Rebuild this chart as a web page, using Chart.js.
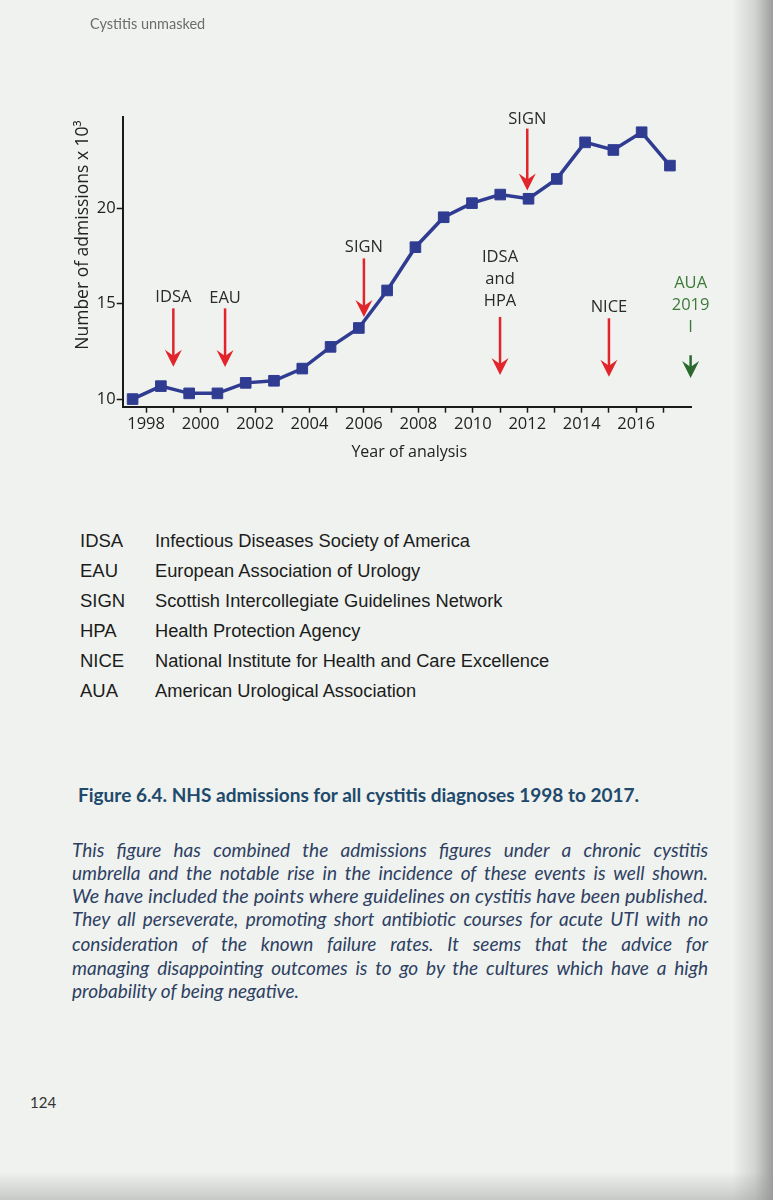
<!DOCTYPE html>
<html><head><meta charset="utf-8">
<script src="https://cdn.jsdelivr.net/npm/chart.js@4.4.0/dist/chart.umd.min.js"></script>
<style>
html,body{margin:0;padding:0;}
body{width:773px;height:1200px;position:relative;overflow:hidden;background:#eff2ee;}
#edgeR{position:absolute;top:0;right:0;width:40px;height:1200px;background:linear-gradient(to right,rgba(140,142,140,0) 0%,rgba(140,142,140,0.3) 55%,rgba(120,122,120,0.7) 100%);}
#edgeB{position:absolute;left:0;bottom:0;width:773px;height:28px;background:linear-gradient(to bottom,rgba(150,152,150,0),rgba(150,152,150,0.45));}
#chart{position:absolute;left:0;top:0;}
.t{position:absolute;white-space:nowrap;line-height:20px;height:20px;}
#hdr{left:90px;top:15px;font:14.5px Lato;color:#6b6d6b;}
#pg{left:30px;top:1093px;font:15px Lato;color:#333;}
.ab{left:80px;font:18.5px "Liberation Sans";color:#1c1c1c;}
.nm{left:155px;font:18.3px "Liberation Sans";color:#1c1c1c;}
#cap{left:78px;top:783px;font:bold 19px Lato;color:#21496c;}
.pl{position:absolute;left:72px;width:636px;height:22px;line-height:22px;font:italic 19px Lato;color:#2e3f63;text-align:justify;text-align-last:justify;white-space:nowrap;}
.pl.last{text-align-last:left;}
</style></head>
<body>
<canvas id="chart" width="773" height="480"></canvas>
<div class="t" id="hdr">Cystitis unmasked</div>

<div class="t ab" style="top:530px">IDSA</div><div class="t nm" style="top:530px">Infectious Diseases Society of America</div>
<div class="t ab" style="top:560px">EAU</div><div class="t nm" style="top:560px">European Association of Urology</div>
<div class="t ab" style="top:590px">SIGN</div><div class="t nm" style="top:590px">Scottish Intercollegiate Guidelines Network</div>
<div class="t ab" style="top:620px">HPA</div><div class="t nm" style="top:620px">Health Protection Agency</div>
<div class="t ab" style="top:650px">NICE</div><div class="t nm" style="top:650px">National Institute for Health and Care Excellence</div>
<div class="t ab" style="top:680px">AUA</div><div class="t nm" style="top:680px">American Urological Association</div>

<div class="t" id="cap">Figure 6.4. NHS admissions for all cystitis diagnoses 1998 to 2017.</div>

<div class="pl" style="top:838px">This figure has combined the admissions figures under a chronic cystitis</div>
<div class="pl" style="top:861px">umbrella and the notable rise in the incidence of these events is well shown.</div>
<div class="pl" style="top:884px">We have included the points where guidelines on cystitis have been published.</div>
<div class="pl" style="top:907px">They all perseverate, promoting short antibiotic courses for acute UTI with no</div>
<div class="pl" style="top:932px">consideration of the known failure rates. It seems that the advice for</div>
<div class="pl" style="top:956px">managing disappointing outcomes is to go by the cultures which have a high</div>
<div class="pl last" style="top:979px">probability of being negative.</div>

<div class="t" id="pg">124</div>
<div id="edgeR"></div>
<div id="edgeB"></div>

<script>
// ---- data ----
const years = [1998,1999,2000,2001,2002,2003,2004,2005,2006,2007,2008,2009,2010,2011,2012,2013,2014,2015,2016,2017];
const admissions = [10.0,10.68,10.30,10.30,10.85,10.96,11.6,12.74,13.73,15.7,17.97,19.54,20.28,20.73,20.51,21.55,23.47,23.07,24.0,22.25];
const xTicks = [1998,1999,2000,2001,2002,2003,2004,2005,2006,2007,2008,2009,2010,2011,2012,2013,2014,2015,2016,2017];
const xLabels = [1998,2000,2002,2004,2006,2008,2010,2012,2014,2016];
const yTicks = [10,15,20];
// guideline annotations (year on tick axis, label/arrow in value units)
const guideLabels = [['IDSA'],['EAU'],['SIGN'],['SIGN'],['IDSA','and','HPA'],['NICE'],['AUA','2019','I']];
const guideYears  = [1999,2000.9,2006,2012,2011,2015,2018];
const guideLabelY = [15.36,15.27,17.97,24.70,17.45,14.83,16.09];
const guideArrowTop = [14.76,14.76,17.38,24.19,14.31,14.24,12.30];
const guideArrowTip = [11.69,11.68,14.31,20.94,11.26,11.17,11.10];
const guideKind = ['red','red','red','red','red','red','green'];

const BLUE = '#2f3c92';
const COLORS = {red:{arrow:'#e1252b',text:'#2a2a2a'}, green:{arrow:'#2a6a2e',text:'#3d7a38'}};

// fit justified text blocks to their measured widths
function fitFont(els, style, family, target){
  const c = document.createElement('canvas').getContext('2d');
  let maxW = 0;
  els.forEach(e=>{ c.font = style + ' 20px ' + family; maxW = Math.max(maxW, c.measureText(e.textContent).width); });
  const size = 20 * target / maxW;
  els.forEach(e=>{ e.style.fontSize = size.toFixed(2) + 'px'; });
}

const annotPlugin = {
  id:'annot',
  afterDraw(chart){
    const ctx = chart.ctx, xs = chart.scales.x, ys = chart.scales.y, ca = chart.chartArea;
    ctx.save();
    guideLabels.forEach((lines,i)=>{
      const c = COLORS[guideKind[i]];
      const px = xs.getPixelForValue(guideYears[i]);
      const y0 = ys.getPixelForValue(guideLabelY[i]);
      ctx.fillStyle = c.text;
      ctx.font = '16.5px "Open Sans"';
      ctx.textAlign = 'center'; ctx.textBaseline = 'middle';
      lines.forEach((l,k)=>ctx.fillText(l, px, y0 + k*22));
      const top = ys.getPixelForValue(guideArrowTop[i]);
      const tip = ys.getPixelForValue(guideArrowTip[i]);
      ctx.strokeStyle = c.arrow; ctx.lineWidth = 2.5;
      ctx.beginPath(); ctx.moveTo(px, top); ctx.lineTo(px, tip-10); ctx.stroke();
      ctx.fillStyle = c.arrow;
      ctx.beginPath();
      ctx.moveTo(px, tip); ctx.lineTo(px-8.5, tip-17); ctx.lineTo(px, tip-11); ctx.lineTo(px+8.5, tip-17);
      ctx.closePath(); ctx.fill();
    });
    // axis titles
    ctx.fillStyle = '#222';
    ctx.font = '16px "Open Sans"';
    ctx.textAlign = 'center'; ctx.textBaseline = 'middle';
    ctx.fillText('Year of analysis', (ca.left+ca.right)/2 + 2, ca.bottom + 46);
    ctx.translate(ca.left - 40, ca.top + 118);
    ctx.rotate(-Math.PI/2);
    ctx.font = '17.5px "Open Sans"';
    ctx.fillText('Number of admissions x 10\u00B3', 0, 0);
    ctx.restore();
  }
};

function draw(){
  fitFont(Array.from(document.querySelectorAll('.pl')).slice(2,3), 'italic', 'Lato', 634);
  fitFont([document.getElementById('cap')], 'bold', 'Lato', 562);
  const axisColor = '#1a1a1a';
  new Chart(document.getElementById('chart'), {
    type:'line',
    data:{datasets:[{
      data: years.map((y,i)=>({x:y, y:admissions[i]})),
      xAxisID:'xd', yAxisID:'y',
      borderColor:BLUE, backgroundColor:BLUE, borderWidth:3.5,
      pointStyle:'rect', pointRadius:7.5, pointBorderWidth:1,
      pointBackgroundColor:BLUE, pointBorderColor:BLUE,
      tension:0, clip:false
    }]},
    options:{
      responsive:false, animation:false, devicePixelRatio:1,
      layout:{padding:{left:0, top:117, right:81.3, bottom:13.3}},
      plugins:{legend:{display:false}, tooltip:{enabled:false}},
      scales:{
        x:{type:'linear', position:'bottom', min:1997.14, max:2018.04,
          afterBuildTicks:s=>{s.ticks = xTicks.map(v=>({value:v}));},
          afterFit:s=>{s.height = 60;},
          ticks:{autoSkip:false, maxRotation:0, minRotation:0, padding:2, color:'#222',
            font:{family:'Open Sans', size:16.5},
            callback:v=> xLabels.includes(v) ? String(v) : ''},
          grid:{drawOnChartArea:false, drawTicks:true, tickLength:6, tickWidth:1.5, tickColor:axisColor},
          border:{display:true, color:axisColor, width:2}},
        xd:{type:'linear', display:false, min:1997.65, max:2017.77},
        y:{type:'linear', position:'left', min:9.6, max:24.8,
          afterBuildTicks:s=>{s.ticks = yTicks.map(v=>({value:v}));},
          afterFit:s=>{s.width = 122.7;},
          ticks:{padding:1, color:'#222', font:{family:'Open Sans', size:16.5}},
          grid:{drawOnChartArea:false, drawTicks:true, tickLength:6, tickWidth:1.5, tickColor:axisColor},
          border:{display:true, color:axisColor, width:2}}
      }
    },
    plugins:[annotPlugin]
  });
}
Promise.all([
  document.fonts.load('15px "Open Sans"'),
  document.fonts.load('17px "Liberation Sans"'),
  document.fonts.load('italic 17px Lato'),
  document.fonts.load('bold 17px Lato')
]).then(draw, draw);
</script>
</body></html>
